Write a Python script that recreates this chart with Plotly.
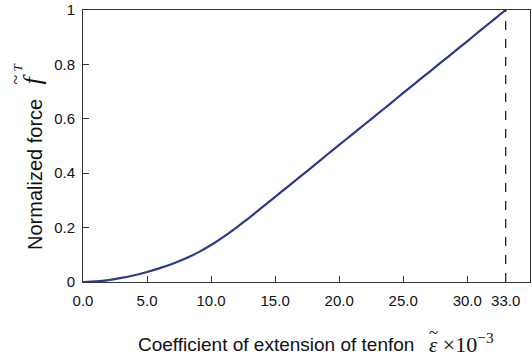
import plotly.graph_objects as go

strain = [0, 1, 2, 3, 4, 5, 6, 7, 8, 9, 10, 11, 12, 13, 14, 15, 16, 17, 18, 19, 20,
          21, 22, 23, 24, 25, 26, 27, 28, 29, 30, 31, 32, 33]
force = [0.0, 0.002, 0.007, 0.015, 0.025, 0.037, 0.051, 0.067, 0.086, 0.109, 0.136,
         0.167, 0.201, 0.237, 0.275, 0.313, 0.351, 0.389, 0.427, 0.466, 0.504,
         0.542, 0.58, 0.618, 0.656, 0.695, 0.733, 0.771, 0.809, 0.847, 0.885,
         0.924, 0.962, 1.0]
x_ticks = [0, 5, 10, 15, 20, 25, 30, 33]
x_tick_labels = ["0.0", "5.0", "10.0", "15.0", "20.0", "25.0", "30.0", "33.0"]
y_ticks = [0, 0.2, 0.4, 0.6, 0.8, 1]
y_tick_labels = ["0", "0.2", "0.4", "0.6", "0.8", "1"]
limit_strain = 33

# plot area in pixels (for placing title annotations)
L, R, T, B = 83, 530, 10, 282
W, H = 532, 361


def px(x):
    return (x - L) / (R - L)


def py(y):
    return (B - y) / (B - T)


fig = go.Figure()
fig.add_trace(go.Scatter(x=strain, y=force, mode="lines",
                         line=dict(color="#2b3a8f", width=2.2, shape="spline", smoothing=0.5),
                         showlegend=False))
fig.add_trace(go.Scatter(x=[limit_strain, limit_strain], y=[0, 1], mode="lines",
                         line=dict(color="#222222", width=1.3, dash="dash"),
                         showlegend=False))

sans = "Liberation Sans, Arial, sans-serif"
serif = "Liberation Serif, DejaVu Serif, serif"
ink = "#111"

annotations = [
    dict(text="Coefficient of extension of tenfon", x=px(276), y=py(344),
         xanchor="center", font=dict(family=sans, size=19, color=ink)),
    dict(text="<span style='font-size:17px'>~</span><br>"
              "<span style='font-size:21px'><i>ε</i></span>"
              "<span style='font-size:22px'> ×10<sup>−3</sup></span>",
         x=px(427), y=py(340), xanchor="left", align="left",
         font=dict(family=serif, size=11, color=ink)),
    dict(text="Normalized force", x=px(35), y=py(175), textangle=-90,
         xanchor="center", font=dict(family=sans, size=20, color=ink)),
    dict(text="<span style='font-size:18px'>~</span>"
              "<span style='font-size:13px'><i> T</i></span><br>"
              "<span style='font-size:26px'><i>f</i></span>",
         x=px(26), y=py(86), textangle=-90, xanchor="center", yanchor="bottom", align="left",
         font=dict(family=serif, size=15, color=ink)),
]
for a in annotations:
    a.update(xref="paper", yref="paper", showarrow=False)
    a.setdefault("yanchor", "middle")

fig.update_layout(
    width=W, height=H,
    margin=dict(l=L, r=W - R, t=T, b=H - B),
    paper_bgcolor="white", plot_bgcolor="white",
    font=dict(family=sans, size=15, color="#111111"),
    xaxis=dict(range=[0, 34.9], tickvals=x_ticks, ticktext=x_tick_labels,
               ticks="inside", ticklen=6, tickcolor="#333", showgrid=False,
               zeroline=False, showline=True, linecolor="#333", linewidth=1,
               mirror=True, tickfont=dict(size=15), ticklabelstandoff=5),
    yaxis=dict(range=[0, 1], tickvals=y_ticks, ticktext=y_tick_labels,
               ticks="inside", ticklen=6, tickcolor="#333", showgrid=False,
               zeroline=False, showline=True, linecolor="#333", linewidth=1,
               mirror=True, tickfont=dict(size=15), ticklabelstandoff=4),
    annotations=annotations,
)

fig.write_html("out.html")
